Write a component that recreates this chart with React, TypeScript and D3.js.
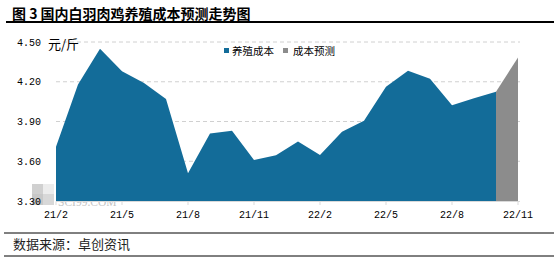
import React from "react";
import * as d3 from "d3";

const months = ["21/2","21/3","21/4","21/5","21/6","21/7","21/8","21/9","21/10","21/11","21/12","22/1","22/2","22/3","22/4","22/5","22/6","22/7","22/8","22/9","22/10","22/11"];
const costValues = [3.71, 4.18, 4.45, 4.28, 4.19, 4.07, 3.51, 3.81, 3.83, 3.61, 3.645, 3.75, 3.647, 3.823, 3.905, 4.163, 4.283, 4.223, 4.023, 4.075, 4.125];
const forecastMonths = ["22/10", "22/11"];
const forecastValues = [4.125, 4.383];
const yTicks = [3.3, 3.6, 3.9, 4.2, 4.5];
const xTickLabels = ["21/2","21/5","21/8","21/11","22/2","22/5","22/8","22/11"];
const title = "图 3 国内白羽肉鸡养殖成本预测走势图";
const unit = "元/斤";
const legendNames = ["养殖成本", "成本预测"];
const source = "数据来源：卓创资讯";
const watermark = "SCI99.COM";

const BLUE = "#136C99";
const GRAY = "#8C8C8C";
const CJK = "'Noto Sans CJK SC', sans-serif";
const MONO = "'Liberation Mono', monospace";

export default function App() {
  const W = 560, H = 261;
  const x = d3.scalePoint<string>().domain(months).range([56, 518]);
  const y = d3.scaleLinear().domain([3.3, 4.5]).range([201, 42]);

  const area = d3.area<number>()
    .x((_, i) => x(months[i]) as number)
    .y0(y(3.3))
    .y1((d) => y(d));
  const fArea = d3.area<number>()
    .x((_, i) => x(forecastMonths[i]) as number)
    .y0(y(3.3))
    .y1((d) => y(d));

  return (
    <svg width={W} height={H} style={{ position: "absolute", left: 0, top: 0, background: "#fff" }}>
      <rect width={W} height={H} fill="#fff" />
      <text x={12} y={18.5} fontFamily={CJK} fontWeight="bold" fontSize={14} fill="#000" style={{ whiteSpace: "pre" }}>{title}</text>
      <line x1={6} x2={554} y1={22} y2={22} stroke="#000" strokeWidth={2} />

      {yTicks.slice(1).map((t) => (
        <line key={t} x1={56} x2={520} y1={y(t)} y2={y(t)} stroke="#d0d0d0" strokeDasharray="4,3" strokeWidth={1} />
      ))}

      {/* watermark */}
      <g>
        <rect x={32} y={184} width={11} height={10} fill="#d0d0d0" />
        <rect x={43} y={184} width={11} height={10} fill="#ececec" />
        <rect x={32} y={194} width={11} height={11} fill="#c8c8c8" />
        <rect x={43} y={194} width={11} height={11} fill="#d8d8d8" />
        <text x={58} y={205.5} fontFamily="'Liberation Serif', serif" fontSize={11.5} fill="#c4c4c4">{watermark}</text>
      </g>

      <path d={area(costValues) || ""} fill={BLUE} />
      <path d={fArea(forecastValues) || ""} fill={GRAY} />

      <line x1={56} x2={520} y1={201.5} y2={201.5} stroke="#d9d9d9" strokeWidth={1} />
      {xTickLabels.map((m) => (
        <g key={m}>
          <line x1={x(m)} x2={x(m)} y1={201.5} y2={205} stroke="#d9d9d9" />
          <text x={x(m)} y={217.5} textAnchor="middle" fontFamily={MONO} fontSize={10} fill="#000">{m}</text>
        </g>
      ))}

      {yTicks.map((t) => (
        <text key={t} x={41} y={y(t) + 3.5} textAnchor="end" fontFamily={MONO} fontSize={10} fill="#000">{d3.format(".2f")(t)}</text>
      ))}

      <text x={48} y={49} fontFamily={CJK} fontSize={13} fill="#000">{unit}</text>

      <rect x={224} y={48} width={5} height={5} fill={BLUE} />
      <text x={232} y={55} fontFamily={CJK} fontSize={10.5} fill="#000">{legendNames[0]}</text>
      <rect x={283} y={48} width={5} height={5} fill={GRAY} />
      <text x={293} y={55} fontFamily={CJK} fontSize={10.5} fill="#000">{legendNames[1]}</text>

      <line x1={4} x2={554} y1={233} y2={233} stroke="#000" strokeWidth={1} />
      <text x={13} y={249} fontFamily={CJK} fontSize={13} fill="#222">{source}</text>
      <line x1={4} x2={554} y1={256} y2={256} stroke="#000" strokeWidth={1} />
    </svg>
  );
}
